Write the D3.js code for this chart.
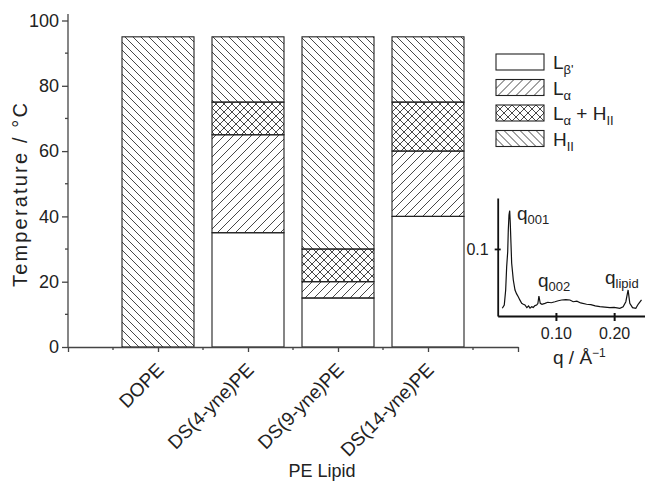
<!DOCTYPE html>
<html>
<head>
<meta charset="utf-8">
<script src="https://cdn.jsdelivr.net/npm/d3@7"></script>
<style>
  body { margin: 0; background: #fff; }
  text { font-family: "Liberation Sans", Arial, Helvetica, sans-serif; fill: #222; }
</style>
</head>
<body>
<svg id="chart" width="645" height="481"></svg>
<script>
// lipids and the upper temperature (°C) of each phase region
const lipids = ["DOPE", "DS(4-yne)PE", "DS(9-yne)PE", "DS(14-yne)PE"];
const lbetaTop = [0, 35, 15, 40];
const lalphaTop = [0, 65, 20, 60];
const mixedTop = [0, 75, 30, 75];
const hiiTop = [95, 95, 95, 95];

const yTicks = [0, 20, 40, 60, 80, 100];

// inset SAXS trace: q (1/Å) and intensity
const saxsQ = [0.0079, 0.0113, 0.0137, 0.0154, 0.0172, 0.0182, 0.0194, 0.0206, 0.0216, 0.0228,
  0.024, 0.0268, 0.0297, 0.0325, 0.0353, 0.038, 0.0412, 0.044, 0.0468, 0.05, 0.053, 0.0555, 0.0583,
  0.061, 0.064, 0.0669, 0.069, 0.0708, 0.0731, 0.076, 0.0811, 0.086, 0.092, 0.0983, 0.104, 0.1098,
  0.117, 0.124, 0.1297, 0.136, 0.1425, 0.1527, 0.16, 0.1675, 0.1755, 0.184, 0.1926, 0.2, 0.2098,
  0.2154, 0.2201, 0.224, 0.2269, 0.2316, 0.2372, 0.2412, 0.247];
const saxsI = [0.0115, 0.0164, 0.0388, 0.0735, 0.0959, 0.1283, 0.1507, 0.1571, 0.1383, 0.1085,
  0.0786, 0.0537, 0.0388, 0.033, 0.0288, 0.024, 0.0189, 0.0175, 0.0164, 0.0125, 0.015, 0.0118, 0.0139,
  0.0128, 0.0155, 0.0164, 0.0185, 0.0298, 0.0189, 0.0175, 0.0189, 0.0205, 0.0198, 0.0213, 0.0228, 0.0239,
  0.0245, 0.0239, 0.0213, 0.0222, 0.0195, 0.0175, 0.017, 0.015, 0.0139, 0.0132, 0.0124, 0.0128, 0.0115,
  0.0139, 0.0213, 0.0388, 0.0189, 0.0124, 0.0115, 0.0175, 0.0239];

const phaseNames = [
  [["L", ""], ["β'", "sub"]],
  [["L", ""], ["α", "sub"]],
  [["L", ""], ["α", "sub"], [" + H", ""], ["II", "sub"]],
  [["H", ""], ["II", "sub"]]
];
const phaseFills = ["#fff", "url(#hatchLa)", "url(#hatchMix)", "url(#hatchH)"];

const svg = d3.select("#chart");
const ink = "#222";

// hatch patterns
const defs = svg.append("defs");
function pattern(id, size, d) {
  defs.append("pattern")
    .attr("id", id)
    .attr("patternUnits", "userSpaceOnUse")
    .attr("width", size).attr("height", size)
    .append("path")
      .attr("d", d)
      .attr("stroke", "#333")
      .attr("stroke-width", 0.9)
      .attr("fill", "none");
}
pattern("hatchH", 8, "M0,0L8,8M-2,6L2,10M6,-2L10,2");
pattern("hatchLa", 9, "M0,9L9,0M-2,2L2,-2M7,11L11,7");
pattern("hatchMix", 8, "M0,0L8,8M-2,6L2,10M6,-2L10,2M0,8L8,0M-2,2L2,-2M6,10L10,6");

const x = d3.scaleLinear().domain([0, 5]).range([68, 518]);
const y = d3.scaleLinear().domain([0, 100]).range([347, 20.5]);
const barW = x(0.8) - x(0);

// stacked phase regions
const tops = [lbetaTop, lalphaTop, mixedTop, hiiTop];
const segments = [];
lipids.forEach((name, i) => {
  let lo = 0;
  tops.forEach((t, p) => {
    if (t[i] > lo) segments.push({ i, p, lo, hi: t[i] });
    lo = Math.max(lo, t[i]);
  });
});

svg.append("g")
  .selectAll("rect")
  .data(segments)
  .enter().append("rect")
    .attr("x", d => x(d.i + 1) - barW / 2)
    .attr("width", barW)
    .attr("y", d => y(d.hi))
    .attr("height", d => y(d.lo) - y(d.hi))
    .attr("fill", d => phaseFills[d.p])
    .attr("stroke", ink)
    .attr("stroke-width", 1.1);

// y axis
const yAxis = svg.append("g")
  .attr("transform", `translate(${x(0)},0)`)
  .call(d3.axisLeft(y).tickValues(yTicks).tickSize(6).tickPadding(3).tickSizeOuter(0));
yAxis.select(".domain").attr("d", `M0,${y(0)}V${y(102)}`);
yAxis.selectAll(".tick text").attr("font-size", 18).style("font-family", null);
yAxis.selectAll("line, path").attr("stroke", "#444").attr("stroke-width", 1.3);
yAxis.selectAll(".minor")
  .data([10, 30, 50, 70, 90])
  .enter().append("line")
    .attr("class", "minor")
    .attr("x1", 0).attr("x2", -3)
    .attr("y1", d => y(d)).attr("y2", d => y(d))
    .attr("stroke", "#444").attr("stroke-width", 1.3);

// x axis
const xAxis = svg.append("g")
  .attr("transform", `translate(0,${y(0)})`)
  .call(d3.axisBottom(x).tickValues([0, 1, 2, 3, 4, 5]).tickSize(5).tickFormat("").tickSizeOuter(0));
xAxis.selectAll("line, path").attr("stroke", "#444").attr("stroke-width", 1.3);
xAxis.selectAll(".minor")
  .data([0.5, 1.5, 2.5, 3.5, 4.5])
  .enter().append("line")
    .attr("class", "minor")
    .attr("x1", d => x(d)).attr("x2", d => x(d))
    .attr("y1", 0).attr("y2", 3)
    .attr("stroke", "#444").attr("stroke-width", 1.3);

svg.append("g")
  .selectAll("text")
  .data(lipids)
  .enter().append("text")
    .attr("transform", (d, i) => `translate(${x(i + 1) + 7},${y(0) + 24}) rotate(-45)`)
    .attr("text-anchor", "end")
    .attr("font-size", 19)
    .text(d => d);

svg.append("text")
  .attr("x", 322).attr("y", 477)
  .attr("text-anchor", "middle")
  .attr("font-size", 18)
  .text("PE Lipid");

svg.append("text")
  .attr("transform", "translate(27,195) rotate(-90)")
  .attr("text-anchor", "middle")
  .attr("font-size", 20)
  .attr("textLength", 184)
  .attr("lengthAdjust", "spacing")
  .text("Temperature / °C");

// legend
function richText(sel, parts, bigSize, smallSize) {
  parts.forEach(([s, kind], k) => {
    const t = sel.append("tspan").text(s);
    if (kind === "sub") {
      t.attr("font-size", smallSize).attr("dy", 5);
    } else {
      t.attr("font-size", bigSize);
      if (k > 0) t.attr("dy", -5);
    }
  });
}

const legend = svg.append("g").attr("transform", "translate(496,54)");
phaseNames.forEach((parts, p) => {
  const row = legend.append("g").attr("transform", `translate(0,${p * 25.5})`);
  row.append("rect")
    .attr("width", 48).attr("height", 16)
    .attr("fill", phaseFills[p])
    .attr("stroke", ink).attr("stroke-width", 1.1);
  const t = row.append("text").attr("x", 57).attr("y", 15);
  richText(t, parts, 19, 13);
});

// inset SAXS pattern
const qx = d3.scaleLinear().domain([0, 0.253]).range([497.7, 645]);
const iy = d3.scaleLinear().domain([0, 0.176]).range([316, 198]);
const inset = svg.append("g");

inset.append("path")
  .datum(d3.zip(saxsQ, saxsI))
  .attr("fill", "none")
  .attr("stroke", "#111")
  .attr("stroke-width", 1.2)
  .attr("d", d3.line().x(d => qx(d[0])).y(d => iy(d[1])));

const qAxis = inset.append("g")
  .attr("transform", `translate(0,${iy(0)})`)
  .call(d3.axisBottom(qx).tickValues([0.1, 0.2]).tickFormat(d3.format(".2f")).tickSize(5).tickPadding(7).tickSizeOuter(0));
qAxis.selectAll(".tick line").attr("y1", -3);
qAxis.selectAll(".tick text").attr("font-size", 16).style("font-family", null);
qAxis.selectAll("line, path").attr("stroke", "#111").attr("stroke-width", 2);

const iAxis = inset.append("g")
  .attr("transform", `translate(${qx(0)},0)`)
  .call(d3.axisLeft(iy).tickValues([0.1]).tickFormat(d3.format(".1f")).tickSize(3).tickPadding(6).tickSizeOuter(0));
iAxis.selectAll(".tick line").attr("x1", 3);
iAxis.selectAll(".tick text").attr("font-size", 16).style("font-family", null);
iAxis.selectAll("line, path").attr("stroke", "#111").attr("stroke-width", 1.8);

const peakLabels = [
  { x: 517, y: 220, sub: "001" },
  { x: 538, y: 287, sub: "002" },
  { x: 605, y: 284, sub: "lipid" }
];
peakLabels.forEach(l => {
  const t = inset.append("text").attr("x", l.x).attr("y", l.y);
  t.append("tspan").attr("font-size", 19).text("q");
  t.append("tspan").attr("font-size", 13).attr("dy", 4).text(l.sub);
});

const qLabel = inset.append("text").attr("x", 553).attr("y", 364);
qLabel.append("tspan").attr("font-size", 19).text("q / Å");
qLabel.append("tspan").attr("font-size", 12).attr("dy", -7).text("−1");
</script>
</body>
</html>
